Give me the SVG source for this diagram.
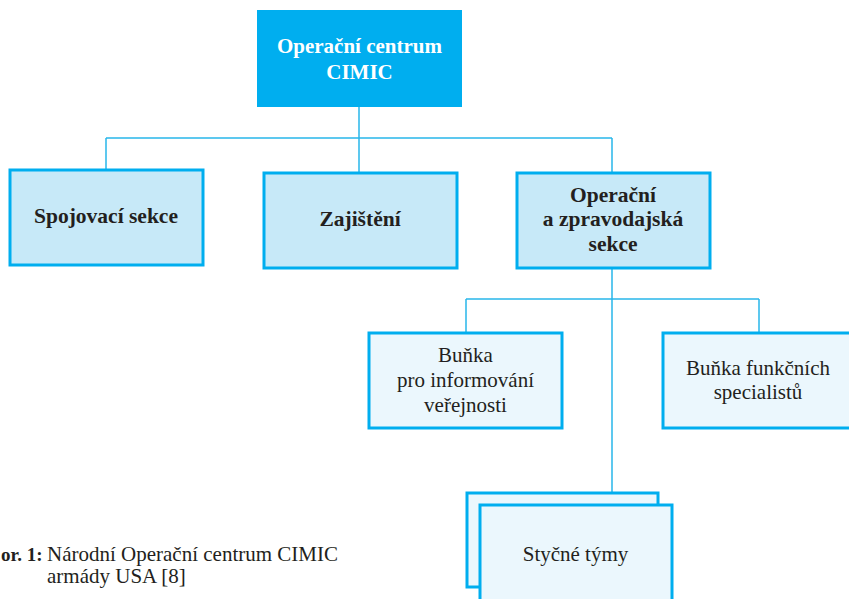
<svg xmlns="http://www.w3.org/2000/svg" width="849" height="599" viewBox="0 0 849 599">
<style>
text{font-family:"Liberation Serif","Times New Roman",serif;fill:#231f20;text-anchor:middle}
.b{font-weight:bold;font-size:21.5px}
.r{font-size:21px}
.top{fill:#00aeef}
.l2{fill:#c7e9f8;stroke:#00aeef;stroke-width:3}
.l3{fill:#ebf7fd;stroke:#00aeef;stroke-width:3}
.c{fill:none;stroke:#29b6ea;stroke-width:1.5}
.cap{font-size:21px;text-anchor:start}
</style>
<rect width="849" height="599" fill="#fff"/>
<g id="connectors">
<path class="c" d="M359 107V172M106 138H612M106 138V169M612 138V172M612 268V492M466 299H759M466 299V332M759 299V332"/>
</g>
<g id="n-top">
<rect class="top" x="257" y="10" width="205" height="97"/>
<text class="b" x="359.5" y="53" style="fill:#fff;font-size:21px">Operační centrum</text>
<text class="b" x="359.5" y="79" style="fill:#fff;font-size:21px">CIMIC</text>
</g>
<g id="n-spojovaci">
<rect class="l2" x="10" y="170" width="193" height="95"/>
<text class="b" x="106" y="223">Spojovací sekce</text>
</g>
<g id="n-zajisteni">
<rect class="l2" x="264" y="173" width="193" height="95"/>
<text class="b" x="360" y="226">Zajištění</text>
</g>
<g id="n-operacni">
<rect class="l2" x="517" y="173" width="193" height="95"/>
<text class="b" x="613" y="202">Operační</text>
<text class="b" x="613" y="226">a zpravodajská</text>
<text class="b" x="613" y="251">sekce</text>
</g>
<g id="n-bunka-info">
<rect class="l3" x="369" y="333" width="193" height="95"/>
<text class="r" x="465.5" y="362">Buňka</text>
<text class="r" x="465.5" y="387">pro informování</text>
<text class="r" x="465.5" y="412">veřejnosti</text>
</g>
<g id="n-bunka-spec">
<rect class="l3" x="663" y="333" width="193" height="95"/>
<text class="r" x="758" y="375">Buňka funkčních</text>
<text class="r" x="758" y="399">specialistů</text>
</g>
<g id="n-stycne">
<rect class="l3" x="467" y="493" width="191" height="94"/>
<rect class="l3" x="480" y="505" width="192" height="100"/>
<text class="r" x="575.5" y="561">Styčné týmy</text>
</g>
<g id="caption">
<text class="cap" x="1" y="561" style="font-weight:bold;font-size:19px">or. 1:</text>
<text class="cap" x="47" y="561">Národní Operační centrum CIMIC</text>
<text class="cap" x="47" y="583">armády USA [8]</text>
</g>
</svg>
